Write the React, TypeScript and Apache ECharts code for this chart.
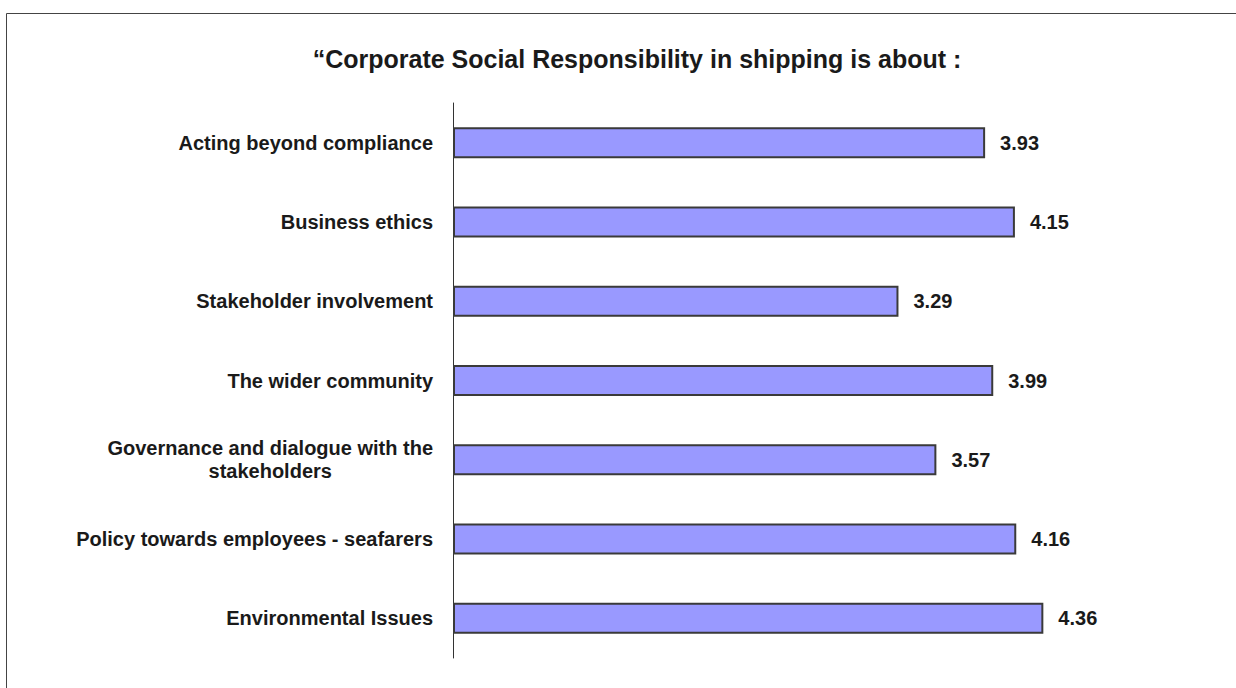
import React, { useEffect, useRef } from "react";
import * as echarts from "echarts";

const titleText = "\u201cCorporate Social Responsibility in shipping is about :";
const categories = [
  "Acting beyond compliance",
  "Business ethics",
  "Stakeholder involvement",
  "The wider community",
  "Governance and dialogue with the\nstakeholders",
  "Policy towards employees - seafarers",
  "Environmental Issues",
];
const values = [3.93, 4.15, 3.29, 3.99, 3.57, 4.16, 4.36];

export default function App() {
  const ref = useRef<HTMLDivElement>(null);
  useEffect(() => {
    const chart = echarts.init(ref.current!, null, { renderer: "svg" });
    const font = "'Liberation Sans', Arial, sans-serif";
    chart.setOption({
      animation: false,
      backgroundColor: "#ffffff",
      title: {
        text: titleText,
        left: 632,
        textAlign: "center",
        top: 41,
        textStyle: { fontFamily: font, fontWeight: "bold", fontSize: 25, color: "#1a1a1a" },
      },
      graphic: [
        {
          type: "rect",
          shape: { x: 6.5, y: 13.5, width: 1300, height: 800 },
          style: { fill: "none", stroke: "#444", lineWidth: 1 },
          silent: true,
        },
      ],
      grid: { left: 453, top: 103, bottom: 30, right: 106, containLabel: false },
      xAxis: {
        type: "value",
        min: 0,
        max: 5,
        show: false,
      },
      yAxis: {
        type: "category",
        data: categories,
        inverse: true,
        axisLine: { show: true, lineStyle: { color: "#333", width: 1 } },
        axisTick: { show: false },
        splitLine: { show: false },
        axisLabel: {
          margin: 20,
          align: "right",
          fontFamily: font,
          fontWeight: "bold",
          fontSize: 20,
          color: "#1a1a1a",
          formatter: (v: string) =>
            v
              .split("\n")
              .map((s) => `{c|${s}}`)
              .join("\n"),
          rich: {
            c: {
              fontFamily: font,
              fontWeight: "bold",
              fontSize: 20,
              color: "#1a1a1a",
              align: "center",
              lineHeight: 23,
            },
          },
        },
      },
      series: [
        {
          type: "bar",
          data: values,
          barWidth: 31,
          itemStyle: { color: "#9999ff", borderColor: "#3a3a3a", borderWidth: 2 },
          label: {
            show: true,
            position: "right",
            distance: 15,
            formatter: (p: any) => p.value.toFixed(2),
            fontFamily: font,
            fontWeight: "bold",
            fontSize: 20,
            color: "#1a1a1a",
          },
        },
      ],
    });
    return () => chart.dispose();
  }, []);
  return (
    <div
      ref={ref}
      style={{ position: "absolute", left: 0, top: 0, width: 1236, height: 688 }}
    />
  );
}
